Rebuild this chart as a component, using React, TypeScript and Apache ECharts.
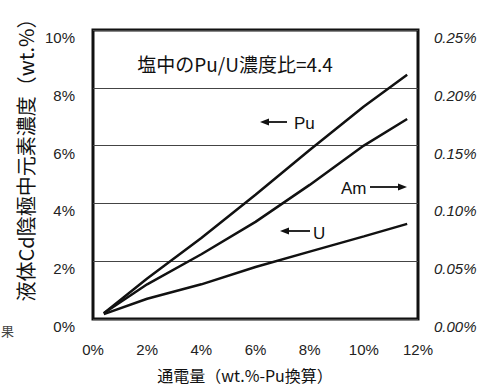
import React, { useEffect, useRef } from "react";
import * as echarts from "echarts";

const xTicks = [0, 2, 4, 6, 8, 10, 12];
const puData: [number, number][] = [[0.4, 0.2], [2, 1.4], [4, 2.8], [6, 4.3], [8, 5.85], [10, 7.35], [11.6, 8.45]];
const amData: [number, number][] = [[0.4, 0.005], [2, 0.03], [4, 0.056], [6, 0.084], [8, 0.116], [10, 0.15], [11.6, 0.173]];
const uData: [number, number][] = [[0.4, 0.17], [2, 0.7], [4, 1.2], [6, 1.8], [8, 2.33], [10, 2.86], [11.6, 3.29]];

const titleText = "塩中のPu/U濃度比=4.4";
const yName = "液体Cd陰極中元素濃度（wt.%）";
const xName = "通電量（wt.%-Pu換算）";

const numFont = "'Liberation Sans', 'DejaVu Sans', sans-serif";
const cjkFont = "'Noto Sans CJK JP', 'Noto Sans', sans-serif";

function arrow(x1: number, x2: number, y: number) {
  const dir = x2 > x1 ? 1 : -1;
  return [
    { type: "line", shape: { x1, y1: y, x2: x2 - dir * 6, y2: y }, style: { stroke: "#111", lineWidth: 1.8 } },
    { type: "polygon", shape: { points: [[x2, y], [x2 - dir * 9, y - 3.5], [x2 - dir * 9, y + 3.5]] }, style: { fill: "#111" } },
  ];
}

export default function App() {
  const ref = useRef<HTMLDivElement>(null);
  useEffect(() => {
    const chart = echarts.init(ref.current!, null, { renderer: "svg" });
    chart.setOption({
      animation: false,
      backgroundColor: "#fff",
      grid: { left: 93, right: 69, top: 30, bottom: 69, show: true, borderColor: "#111", borderWidth: 3, backgroundColor: "transparent" },
      xAxis: {
        type: "value", min: 0, max: 12, interval: 2,
        axisLine: { show: false }, axisTick: { show: false }, splitLine: { show: false },
        axisLabel: { formatter: (v: number) => `${v}%`, color: "#222", fontSize: 15, fontFamily: numFont, margin: 23, customValues: xTicks },
      },
      yAxis: [
        {
          type: "value", min: 0, max: 10, interval: 2,
          axisLine: { show: false }, axisTick: { show: false },
          splitLine: { show: true, lineStyle: { color: "#444", width: 1 } },
          axisLabel: { formatter: (v: number) => `${v}%`, color: "#222", fontSize: 15, fontFamily: numFont, margin: 18, verticalAlign: "top" },
        },
        {
          type: "value", min: 0, max: 0.25, interval: 0.05, position: "right",
          axisLine: { show: false }, axisTick: { show: false }, splitLine: { show: false },
          axisLabel: { formatter: (v: number) => `${v.toFixed(2)}%`, color: "#222", fontSize: 15, fontStyle: "italic", fontFamily: numFont, margin: 16, verticalAlign: "top" },
        },
      ],
      series: [
        { name: "Pu", type: "line", data: puData, yAxisIndex: 0, symbol: "none", lineStyle: { color: "#111", width: 2.5 } },
        { name: "Am", type: "line", data: amData, yAxisIndex: 1, symbol: "none", lineStyle: { color: "#111", width: 2.5 } },
        { name: "U", type: "line", data: uData, yAxisIndex: 0, symbol: "none", lineStyle: { color: "#111", width: 2.5 } },
      ],
      graphic: [
        { type: "text", x: 235, y: 63, style: { text: titleText, fontSize: 19, fontFamily: cjkFont, fill: "#111", align: "center", verticalAlign: "middle" } },
        { type: "text", x: 25, y: 155, rotation: Math.PI / 2, style: { text: yName, fontSize: 20, fontFamily: cjkFont, fill: "#111", align: "center", verticalAlign: "middle" } },
        { type: "text", x: 245, y: 375, style: { text: xName, fontSize: 16, fontFamily: cjkFont, fill: "#111", align: "center", verticalAlign: "middle" } },
        { type: "text", x: 1, y: 330, style: { text: "果", fontSize: 13, fontFamily: cjkFont, fill: "#444", align: "left", verticalAlign: "middle" } },
        { type: "text", x: 294, y: 123, style: { text: "Pu", fontSize: 17, fontFamily: numFont, fill: "#111", align: "left", verticalAlign: "middle" } },
        ...arrow(287, 260, 122),
        { type: "text", x: 341, y: 188, style: { text: "Am", fontSize: 17, fontFamily: numFont, fill: "#111", align: "left", verticalAlign: "middle" } },
        ...arrow(370, 407, 187),
        { type: "text", x: 313, y: 233, style: { text: "U", fontSize: 17, fontFamily: numFont, fill: "#111", align: "left", verticalAlign: "middle" } },
        ...arrow(310, 280, 231),
      ],
    });
    return () => chart.dispose();
  }, []);
  return <div ref={ref} style={{ width: 487, height: 388, position: "fixed", left: 0, top: 0 }} />;
}
